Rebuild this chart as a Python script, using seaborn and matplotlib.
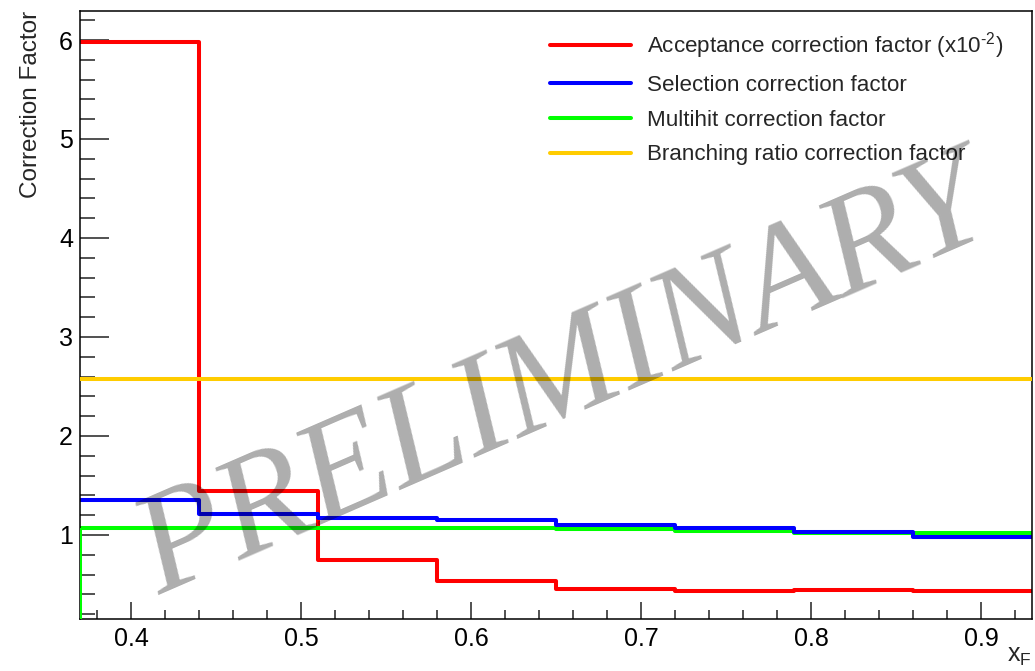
import numpy as np
import pandas as pd
import matplotlib
matplotlib.use("Agg")
import matplotlib.pyplot as plt
import seaborn as sns
from matplotlib.ticker import MultipleLocator

# ---- data ----
bin_edges = [0.37, 0.44, 0.51, 0.58, 0.65, 0.72, 0.79, 0.86, 0.93]
acceptance = [5.98, 1.44, 0.747, 0.537, 0.455, 0.435, 0.443, 0.432]   # x10^-2
selection = [1.354, 1.215, 1.168, 1.150, 1.100, 1.075, 1.034, 0.977]
multihit = [1.066, 1.068, 1.070, 1.068, 1.057, 1.045, 1.018, 1.023]
branching = [2.576, 2.576, 2.576, 2.576, 2.576, 2.576, 2.576, 2.576]

labels = ["Acceptance correction factor (x10$^{\\mathregular{\\text{-}2}}$)",
          "Selection correction factor",
          "Multihit correction factor",
          "Branching ratio correction factor"]
colors = ["#ff0000", "#0000ff", "#00ff00", "#ffcc00"]

x_ticks = [0.4, 0.5, 0.6, 0.7, 0.8, 0.9]
y_ticks = [1, 2, 3, 4, 5, 6]
x_label = "x$_{\\mathregular{F}}$"
y_label = "Correction Factor"
watermark = "PRELIMINARY"

# ---- style ----
sns.set_style("white")
plt.rcParams["font.family"] = ["Liberation Sans", "DejaVu Sans"]
plt.rcParams["mathtext.fontset"] = "custom"
plt.rcParams["mathtext.rm"] = "Liberation Sans"
plt.rcParams["mathtext.it"] = "Liberation Sans"

fig = plt.figure(figsize=(10.35, 6.71), dpi=100)
ax = fig.add_axes([80 / 1035, 1 - 619 / 671, (1032 - 80) / 1035, (619 - 11) / 671])

edges = np.array(bin_edges)
centers = (edges[:-1] + edges[1:]) / 2
ylo, yhi = 0.151, 6.293

series = [acceptance, selection, multihit, branching]
zorders = [2.0, 2.4, 2.2, 2.6]
for vals, lab, col, zo in zip(series, labels, colors, zorders):
    df = pd.DataFrame({"xf": centers, "w": vals})
    sns.histplot(data=df, x="xf", weights="w", bins=list(bin_edges), element="step",
                 fill=False, color=col, linewidth=2.9, label=lab, ax=ax, zorder=zo)

# ROOT draws the last histogram's left edge from the frame bottom
ax.vlines(edges[0], ylo, multihit[0], color=colors[2], linewidth=2.9, zorder=3)

ax.set_xlim(edges[0], edges[-1])
ax.set_ylim(ylo, yhi)
ax.set_xticks(x_ticks)
ax.set_xticklabels([f"{t:g}" for t in x_ticks])
ax.set_yticks(y_ticks)
ax.xaxis.set_minor_locator(MultipleLocator(0.02))
ax.yaxis.set_minor_locator(MultipleLocator(0.2))

ax.tick_params(axis="both", which="both", direction="in", colors="#222222",
               labelcolor="black", width=1.1, labelsize=18,
               bottom=True, left=True, top=False, right=False)
ax.tick_params(axis="x", which="major", length=12.5, pad=6)
ax.tick_params(axis="x", which="minor", length=6.2)
ax.tick_params(axis="y", which="major", length=21, pad=5)
ax.tick_params(axis="y", which="minor", length=10.5)
for s in ax.spines.values():
    s.set_color("black")
    s.set_linewidth(1.1)

ax.set_ylabel(y_label, loc="top", fontsize=17.5, labelpad=12)
ax.set_xlabel(x_label, loc="right", fontsize=18, labelpad=-5)

leg = ax.legend(loc="upper left", bbox_to_anchor=((550 - 80) / 952, (619 - 30) / 608),
                frameon=False, fontsize=16.1, handlelength=3.6, handletextpad=0.75,
                labelspacing=0.62, borderpad=0, borderaxespad=0)
for h in leg.get_lines():
    h.set_linewidth(2.9)

ax.text(0.655, 2.55, watermark, fontsize=104, family="Liberation Serif", style="italic",
        color="black", alpha=0.32, rotation=23.5, ha="center", va="center",
        rotation_mode="anchor", zorder=10)

fig.savefig("out.png", dpi=100)
